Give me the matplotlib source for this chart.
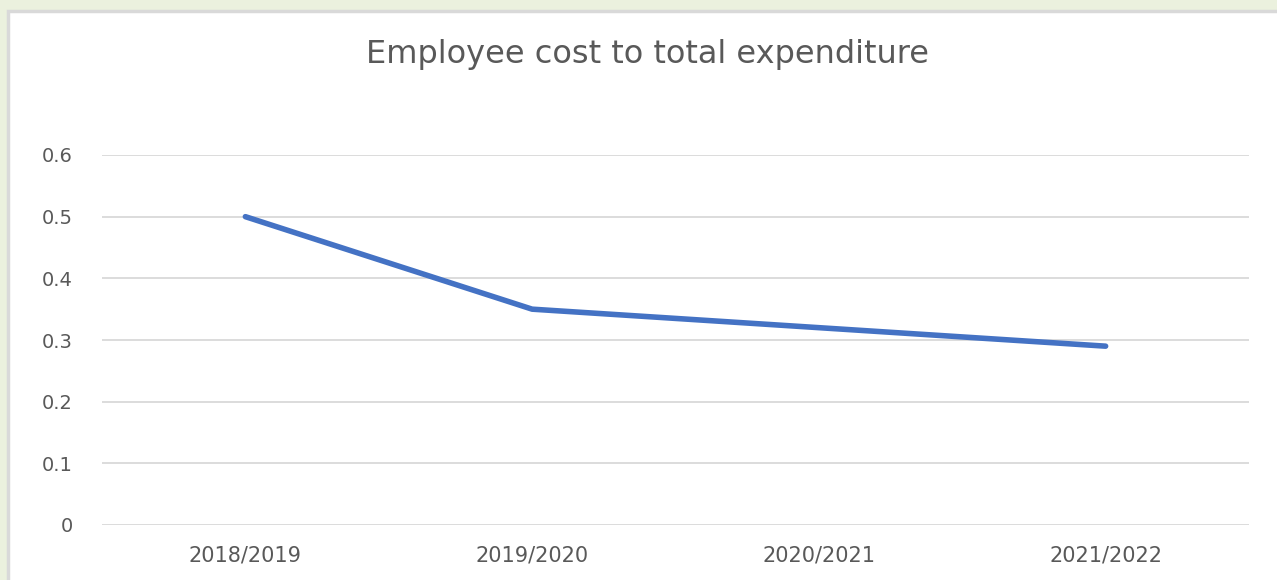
import matplotlib
matplotlib.use("Agg")
import matplotlib.pyplot as plt
from matplotlib.patches import Rectangle

plt.rcParams['font.family'] = ['DejaVu Sans']

years = ["2018/2019", "2019/2020", "2020/2021", "2021/2022"]
ratio = [0.50, 0.35, 0.32, 0.29]
y_ticks = [0, 0.1, 0.2, 0.3, 0.4, 0.5, 0.6]
y_labels = ["0", "0.1", "0.2", "0.3", "0.4", "0.5", "0.6"]

W, H = 1277, 580
fig = plt.figure(figsize=(W / 100, H / 100), dpi=100, facecolor="#EBF1DE")

# white chart panel with thin grey frame, behind everything
panel = Rectangle((8 / W, -0.01), 1 - 8 / W + 0.01, 1 - 11 / H + 0.01,
                  transform=fig.transFigure, facecolor="white",
                  edgecolor="#D9D9D9", linewidth=2.5, zorder=-10)
fig.patches.append(panel)

ax = fig.add_axes([102 / W, (H - 525) / H, (1249 - 102) / W, (525 - 155) / H])
ax.set_facecolor("none")
ax.set_zorder(1)

x = list(range(len(years)))
ax.plot(x, ratio, color="#4472C4", linewidth=4.0, solid_capstyle="round",
        solid_joinstyle="round", zorder=3)

ax.set_xlim(-0.5, len(years) - 0.5)
ax.set_ylim(0, 0.6)
ax.set_yticks(y_ticks)
ax.set_yticklabels(y_labels)
ax.set_xticks(x)
ax.set_xticklabels(years)

ax.grid(axis="y", color="#D9D9D9", linewidth=1.3, zorder=0)
ax.set_axisbelow(True)
for s in ax.spines.values():
    s.set_visible(False)
ax.tick_params(axis="y", length=0, labelsize=14, labelcolor="#595959", pad=21)
ax.tick_params(axis="x", length=0, labelsize=15, labelcolor="#595959", pad=15)

fig.text(648 / W, 1 - 55 / H, "Employee cost to total expenditure",
         ha="center", va="center", fontsize=23, color="#595959", zorder=2)

fig.savefig("out.png", dpi=100, facecolor=fig.get_facecolor())
